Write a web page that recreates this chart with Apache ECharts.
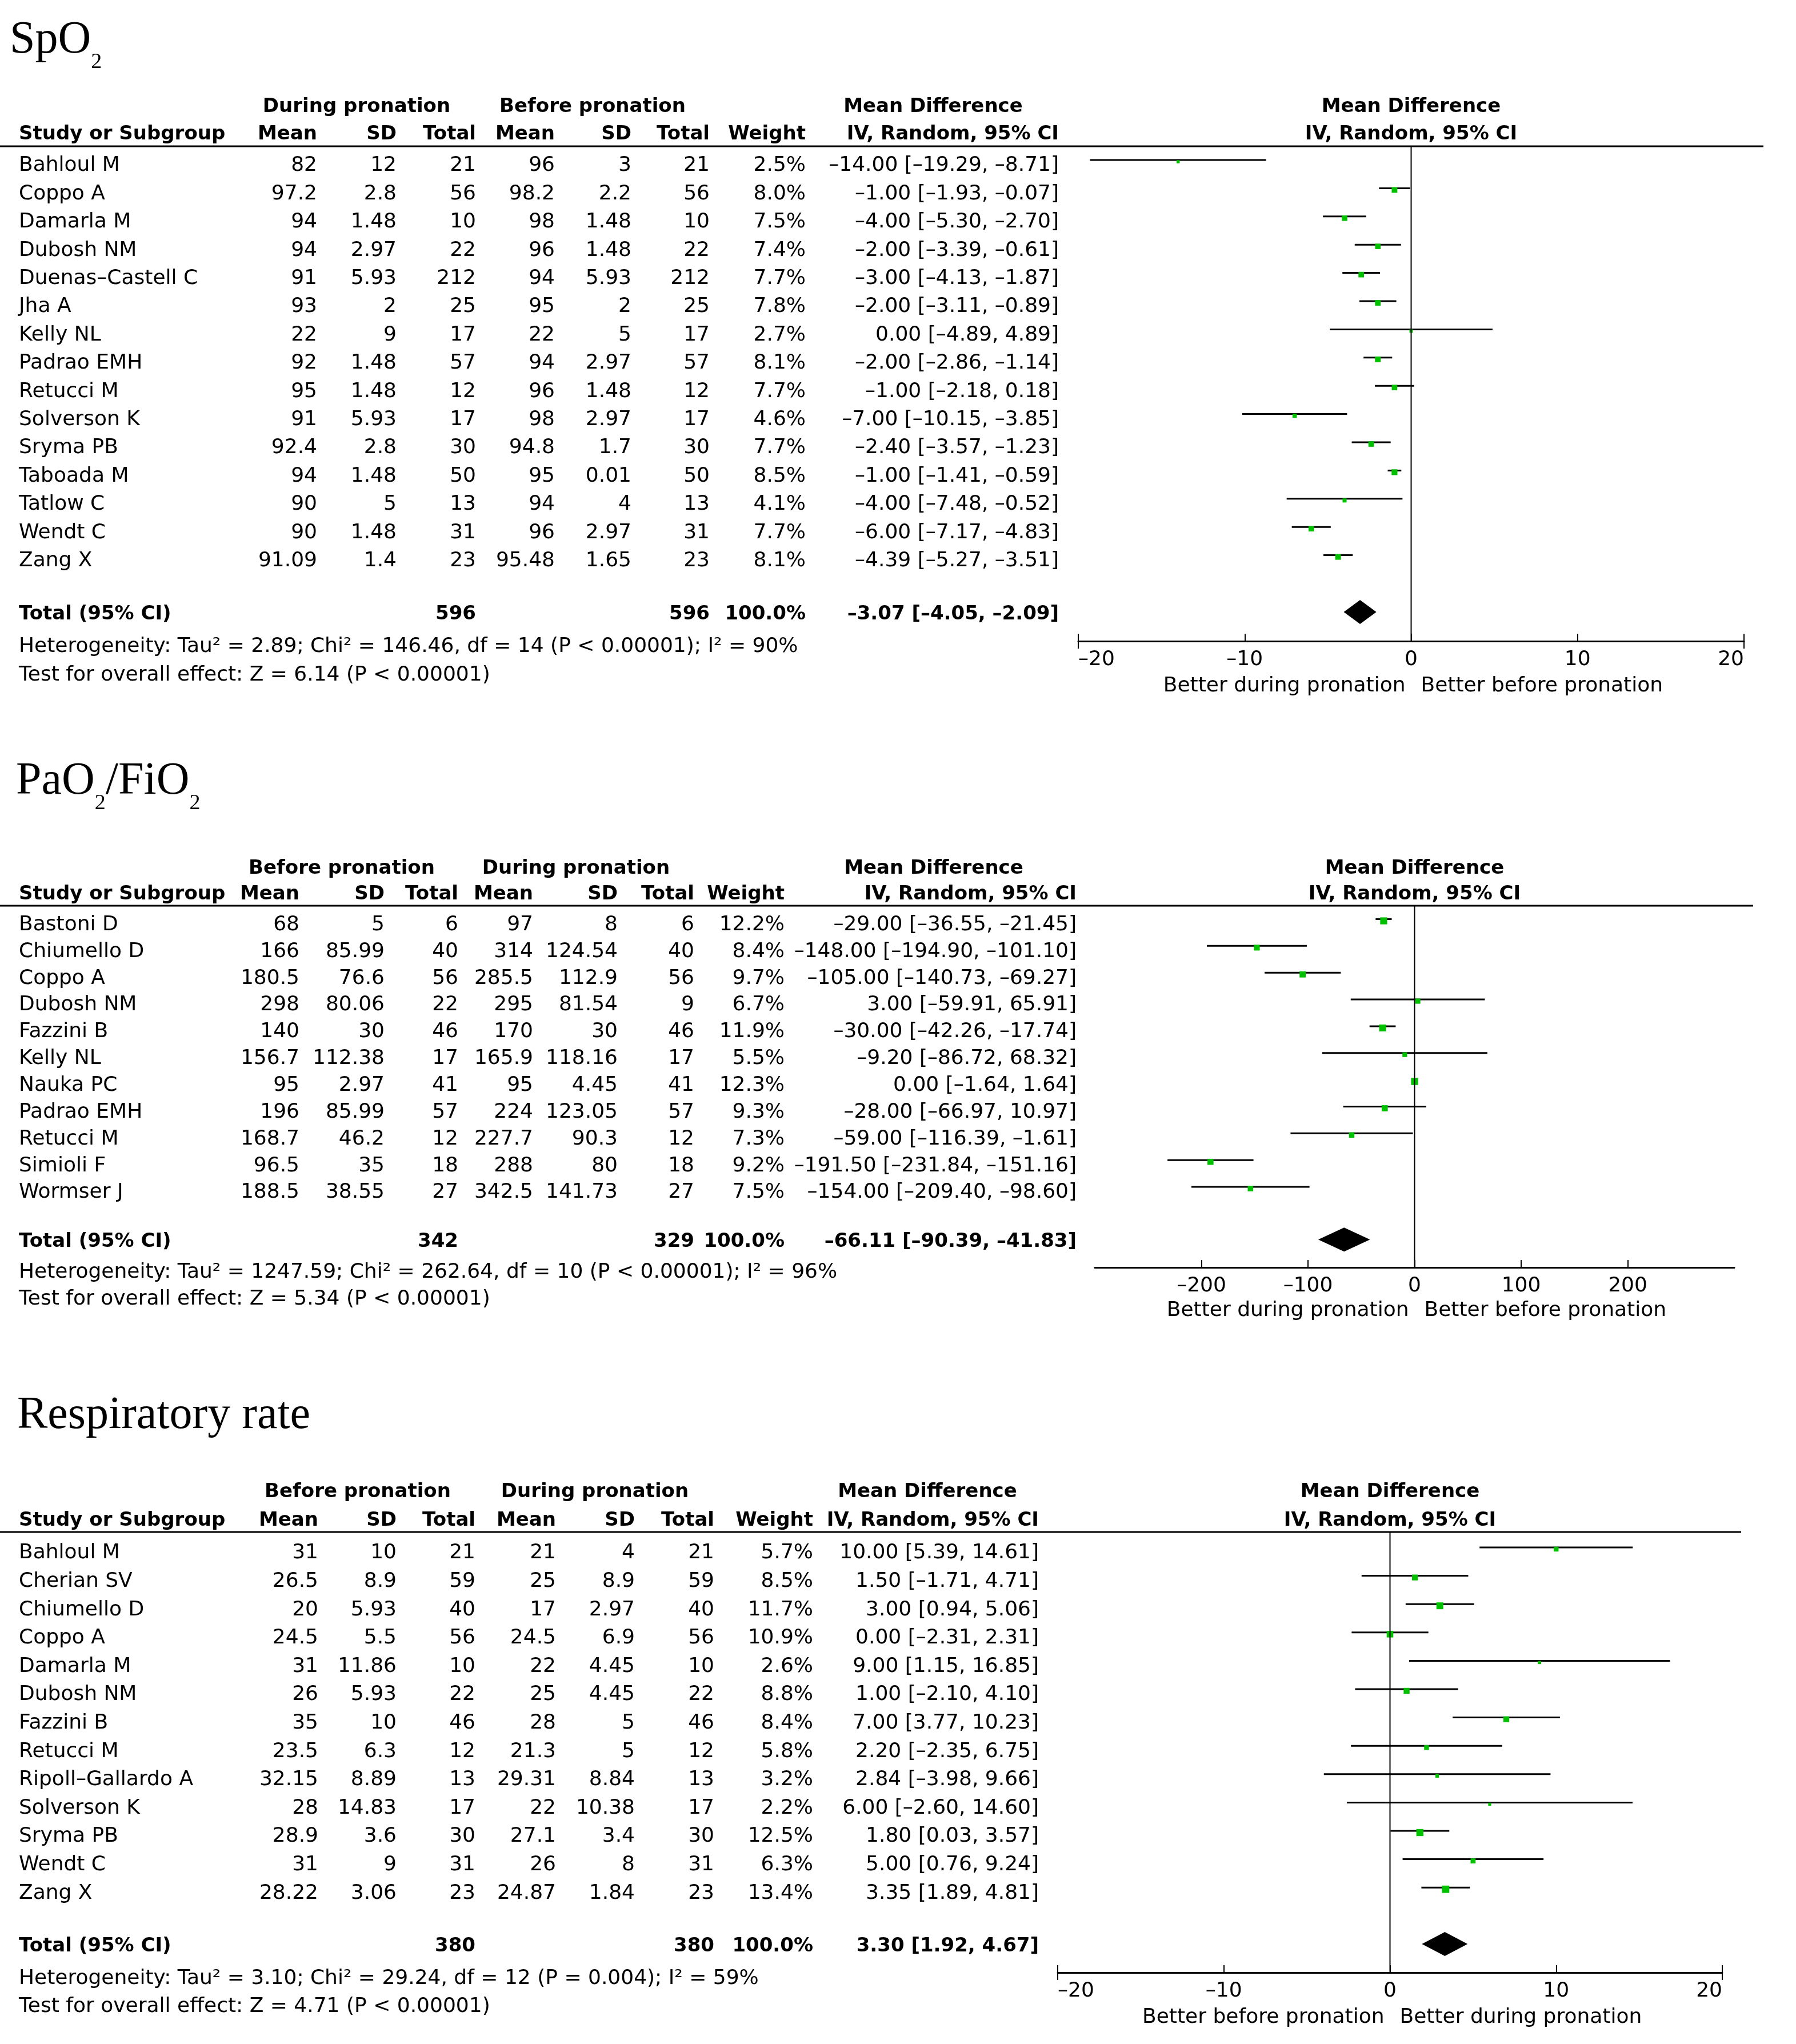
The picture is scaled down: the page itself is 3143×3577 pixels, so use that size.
<!DOCTYPE html>
<html>
<head>
<meta charset="utf-8">
<script src="https://cdn.jsdelivr.net/npm/echarts@6/dist/echarts.min.js"></script>
<style>
html, body { margin: 0; padding: 0; background: #fff; }
#main { width: 3143px; height: 3577px; }
</style>
</head>
<body>
<div id="main"></div>
<script>
// ---- SpO2 ----
const spo2Studies = ['Bahloul M', 'Coppo A', 'Damarla M', 'Dubosh NM', 'Duenas-Castell C', 'Jha A', 'Kelly NL', 'Padrao EMH', 'Retucci M', 'Solverson K', 'Sryma PB', 'Taboada M', 'Tatlow C', 'Wendt C', 'Zang X']
const spo2Groups = ['During pronation', 'Before pronation']
const spo2MeanA = [82, 97.2, 94, 94, 91, 93, 22, 92, 95, 91, 92.4, 94, 90, 90, 91.09]
const spo2SdA = [12, 2.8, 1.48, 2.97, 5.93, 2, 9, 1.48, 1.48, 5.93, 2.8, 1.48, 5, 1.48, 1.4]
const spo2NA = [21, 56, 10, 22, 212, 25, 17, 57, 12, 17, 30, 50, 13, 31, 23]
const spo2MeanB = [96, 98.2, 98, 96, 94, 95, 22, 94, 96, 98, 94.8, 95, 94, 96, 95.48]
const spo2SdB = [3, 2.2, 1.48, 1.48, 5.93, 2, 5, 2.97, 1.48, 2.97, 1.7, 0.01, 4, 2.97, 1.65]
const spo2NB = [21, 56, 10, 22, 212, 25, 17, 57, 12, 17, 30, 50, 13, 31, 23]
const spo2Weight = [2.5, 8.0, 7.5, 7.4, 7.7, 7.8, 2.7, 8.1, 7.7, 4.6, 7.7, 8.5, 4.1, 7.7, 8.1]
const spo2Md = [-14.00, -1.00, -4.00, -2.00, -3.00, -2.00, 0.00, -2.00, -1.00, -7.00, -2.40, -1.00, -4.00, -6.00, -4.39]
const spo2Lo = [-19.29, -1.93, -5.30, -3.39, -4.13, -3.11, -4.89, -2.86, -2.18, -10.15, -3.57, -1.41, -7.48, -7.17, -5.27]
const spo2Hi = [-8.71, -0.07, -2.70, -0.61, -1.87, -0.89, 4.89, -1.14, 0.18, -3.85, -1.23, -0.59, -0.52, -4.83, -3.51]
const spo2Total = [596, 596]
const spo2Pooled = [-3.07, -4.05, -2.09]
const spo2Het = 'Heterogeneity: Tau² = 2.89; Chi² = 146.46, df = 14 (P < 0.00001); I² = 90%'
const spo2Test = 'Test for overall effect: Z = 6.14 (P < 0.00001)'
const spo2Ticks = [-20, -10, 0, 10, 20]
const spo2Favours = ['Better during pronation', 'Better before pronation']

// ---- PaO2/FiO2 ----
const pfStudies = ['Bastoni D', 'Chiumello D', 'Coppo A', 'Dubosh NM', 'Fazzini B', 'Kelly NL', 'Nauka PC', 'Padrao EMH', 'Retucci M', 'Simioli F', 'Wormser J']
const pfGroups = ['Before pronation', 'During pronation']
const pfMeanA = [68, 166, 180.5, 298, 140, 156.7, 95, 196, 168.7, 96.5, 188.5]
const pfSdA = [5, 85.99, 76.6, 80.06, 30, 112.38, 2.97, 85.99, 46.2, 35, 38.55]
const pfNA = [6, 40, 56, 22, 46, 17, 41, 57, 12, 18, 27]
const pfMeanB = [97, 314, 285.5, 295, 170, 165.9, 95, 224, 227.7, 288, 342.5]
const pfSdB = [8, 124.54, 112.9, 81.54, 30, 118.16, 4.45, 123.05, 90.3, 80, 141.73]
const pfNB = [6, 40, 56, 9, 46, 17, 41, 57, 12, 18, 27]
const pfWeight = [12.2, 8.4, 9.7, 6.7, 11.9, 5.5, 12.3, 9.3, 7.3, 9.2, 7.5]
const pfMd = [-29.00, -148.00, -105.00, 3.00, -30.00, -9.20, 0.00, -28.00, -59.00, -191.50, -154.00]
const pfLo = [-36.55, -194.90, -140.73, -59.91, -42.26, -86.72, -1.64, -66.97, -116.39, -231.84, -209.40]
const pfHi = [-21.45, -101.10, -69.27, 65.91, -17.74, 68.32, 1.64, 10.97, -1.61, -151.16, -98.60]
const pfTotal = [342, 329]
const pfPooled = [-66.11, -90.39, -41.83]
const pfHet = 'Heterogeneity: Tau² = 1247.59; Chi² = 262.64, df = 10 (P < 0.00001); I² = 96%'
const pfTest = 'Test for overall effect: Z = 5.34 (P < 0.00001)'
const pfTicks = [-200, -100, 0, 100, 200]
const pfFavours = ['Better during pronation', 'Better before pronation']

// ---- Respiratory rate ----
const rrStudies = ['Bahloul M', 'Cherian SV', 'Chiumello D', 'Coppo A', 'Damarla M', 'Dubosh NM', 'Fazzini B', 'Retucci M', 'Ripoll-Gallardo A', 'Solverson K', 'Sryma PB', 'Wendt C', 'Zang X']
const rrGroups = ['Before pronation', 'During pronation']
const rrMeanA = [31, 26.5, 20, 24.5, 31, 26, 35, 23.5, 32.15, 28, 28.9, 31, 28.22]
const rrSdA = [10, 8.9, 5.93, 5.5, 11.86, 5.93, 10, 6.3, 8.89, 14.83, 3.6, 9, 3.06]
const rrNA = [21, 59, 40, 56, 10, 22, 46, 12, 13, 17, 30, 31, 23]
const rrMeanB = [21, 25, 17, 24.5, 22, 25, 28, 21.3, 29.31, 22, 27.1, 26, 24.87]
const rrSdB = [4, 8.9, 2.97, 6.9, 4.45, 4.45, 5, 5, 8.84, 10.38, 3.4, 8, 1.84]
const rrNB = [21, 59, 40, 56, 10, 22, 46, 12, 13, 17, 30, 31, 23]
const rrWeight = [5.7, 8.5, 11.7, 10.9, 2.6, 8.8, 8.4, 5.8, 3.2, 2.2, 12.5, 6.3, 13.4]
const rrMd = [10.00, 1.50, 3.00, 0.00, 9.00, 1.00, 7.00, 2.20, 2.84, 6.00, 1.80, 5.00, 3.35]
const rrLo = [5.39, -1.71, 0.94, -2.31, 1.15, -2.10, 3.77, -2.35, -3.98, -2.60, 0.03, 0.76, 1.89]
const rrHi = [14.61, 4.71, 5.06, 2.31, 16.85, 4.10, 10.23, 6.75, 9.66, 14.60, 3.57, 9.24, 4.81]
const rrTotal = [380, 380]
const rrPooled = [3.30, 1.92, 4.67]
const rrHet = 'Heterogeneity: Tau² = 3.10; Chi² = 29.24, df = 12 (P = 0.004); I² = 59%'
const rrTest = 'Test for overall effect: Z = 4.71 (P < 0.00001)'
const rrTicks = [-20, -10, 0, 10, 20]
const rrFavours = ['Better before pronation', 'Better during pronation']

const SANS = '"DejaVu Sans", Verdana, sans-serif'
const SERIF = '"Liberation Serif", "Times New Roman", serif'
const FS = 36      // regular text
const FSB = 34     // bold text
const TXT_DY = 4   // canvas "middle" sits a bit above the cap centre
const GREEN = '#00c000'

const dash = s => String(s).replace(/-/g, '–')
const f2 = v => dash(v.toFixed(2))
const ci = (m, l, h) => `${f2(m)} [${f2(l)}, ${f2(h)}]`

// panels: data + where things sit on the page
const panels = [
    {
        title: [['SpO', 0], ['2', 1]],
        studies: spo2Studies, groups: spo2Groups,
        cols: [spo2MeanA, spo2SdA, spo2NA, spo2MeanB, spo2SdB, spo2NB],
        weight: spo2Weight, md: spo2Md, lo: spo2Lo, hi: spo2Hi,
        total: spo2Total, pooled: spo2Pooled, het: spo2Het, test: spo2Test,
        ticks: spo2Ticks, favours: spo2Favours, xMin: -20, xMax: 20, step: 10, endTicks: true,
        lay: { titleLeft: 17, titleBase: 98, h1: 183, h2: 231, lineY: 256, lineRight: 3086,
            row0: 286, rowStep: 49.4, totalOff: 0.89, hetOff: 2.04, testOff: 3.04,
            axisLeft: 1887, axisRight: 3052, axisY: 1122,
            colX: [555, 694, 833, 971, 1105, 1242, 1410, 1853],
            groupX: [624, 1037], mdX: 1633, favY: 1197 }
    },
    {
        title: [['PaO', 0], ['2', 1], ['/FiO', 0], ['2', 1]],
        studies: pfStudies, groups: pfGroups,
        cols: [pfMeanA, pfSdA, pfNA, pfMeanB, pfSdB, pfNB],
        weight: pfWeight, md: pfMd, lo: pfLo, hi: pfHi,
        total: pfTotal, pooled: pfPooled, het: pfHet, test: pfTest,
        ticks: pfTicks, favours: pfFavours, xMin: -300, xMax: 300, step: 100, endTicks: false,
        lay: { titleLeft: 28, titleBase: 1395, h1: 1516, h2: 1561, lineY: 1585, lineRight: 3068,
            row0: 1614.5, rowStep: 46.85, totalOff: 0.84, hetOff: 1.97, testOff: 2.99,
            axisLeft: 1916, axisRight: 3035, axisY: 2218,
            colX: [524, 673, 802, 933, 1081, 1215, 1373, 1884],
            groupX: [598, 1008], mdX: 1634, favY: 2290 }
    },
    {
        title: [['Respiratory rate', 0]],
        studies: rrStudies, groups: rrGroups,
        cols: [rrMeanA, rrSdA, rrNA, rrMeanB, rrSdB, rrNB],
        weight: rrWeight, md: rrMd, lo: rrLo, hi: rrHi,
        total: rrTotal, pooled: rrPooled, het: rrHet, test: rrTest,
        ticks: rrTicks, favours: rrFavours, xMin: -20, xMax: 20, step: 10, endTicks: true,
        lay: { titleLeft: 30, titleBase: 2505, h1: 2607, h2: 2657, lineY: 2681, lineRight: 3047,
            row0: 2714, rowStep: 49.6, totalOff: 0.87, hetOff: 2.02, testOff: 3.0,
            axisLeft: 1851, axisRight: 3014, axisY: 3452,
            colX: [557, 694, 832, 973, 1111, 1250, 1423, 1818],
            groupX: [626, 1041], mdX: 1623, favY: 3527 }
    }
]

const ctx = document.createElement('canvas').getContext('2d')
const measure = (str, size, family) => {
    ctx.font = `${size}px ${family}`
    return ctx.measureText(str).width
}

const txt = (text, x, y, align, bold, size) => ({
    type: 'text', x: x, y: y + TXT_DY, silent: true,
    style: {
        text: text, fill: '#000',
        fontSize: size || (bold ? FSB : FS), fontFamily: SANS, fontWeight: bold ? 'bold' : 'normal',
        align: align, textAlign: align, verticalAlign: 'middle', textVerticalAlign: 'middle'
    }
})

const option = { animation: false, backgroundColor: '#fff', grid: [], xAxis: [], yAxis: [], series: [], graphic: [] }

panels.forEach((p, k) => {
    const L = p.lay
    const n = p.studies.length
    const yMin = (L.lineY - L.row0) / L.rowStep
    const yMax = (L.axisY - L.row0) / L.rowStep

    option.grid.push({ left: L.axisLeft, top: L.lineY, width: L.axisRight - L.axisLeft, height: L.axisY - L.lineY })
    const xi = option.xAxis.length
    option.xAxis.push({
        gridIndex: k, type: 'value', position: 'bottom', min: p.xMin, max: p.xMax, interval: p.step,
        axisLine: { onZero: false, lineStyle: { color: '#000', width: 3 } },
        axisTick: { inside: true, length: 13, lineStyle: { color: '#000', width: 2 }, customValues: p.ticks },
        axisLabel: {
            customValues: p.ticks, margin: 15, color: '#000', fontSize: FS, fontFamily: SANS,
            alignMinLabel: p.endTicks ? 'left' : 'center', alignMaxLabel: p.endTicks ? 'right' : 'center',
            formatter: v => dash(v)
        },
        splitLine: { show: false }
    })
    if (p.endTicks) {
        option.xAxis.push({
            gridIndex: k, type: 'value', position: 'bottom', min: p.xMin, max: p.xMax, interval: p.step,
            axisLine: { show: false, onZero: false },
            axisTick: { inside: false, length: 13, lineStyle: { color: '#000', width: 2 }, customValues: [p.xMin, p.xMax] },
            axisLabel: { show: false }, splitLine: { show: false }
        })
    }
    option.yAxis.push({ gridIndex: k, type: 'value', inverse: true, min: yMin, max: yMax, show: false })

    // zero line
    option.series.push({
        type: 'line', xAxisIndex: xi, yAxisIndex: k, silent: true, symbol: 'none',
        data: [[0, yMin], [0, yMax]], lineStyle: { color: '#000', width: 2 }
    })

    // study CIs and weight squares
    option.series.push({
        type: 'custom', xAxisIndex: xi, yAxisIndex: k, silent: true, clip: false,
        data: p.studies.map((s, i) => [p.lo[i], p.hi[i], p.md[i], i, p.weight[i]]),
        renderItem: (params, api) => {
            const y = api.coord([0, api.value(3)])[1] - 6
            const x1 = api.coord([api.value(0), 0])[0]
            const x2 = api.coord([api.value(1), 0])[0]
            const xm = api.coord([api.value(2), 0])[0]
            const s = 3.5 * Math.sqrt(api.value(4))
            return {
                type: 'group', children: [
                    { type: 'line', shape: { x1: x1, y1: y, x2: x2, y2: y }, style: { stroke: '#000', lineWidth: 3 } },
                    { type: 'rect', shape: { x: xm - s / 2, y: y + 3 - s / 2, width: s, height: s }, style: { fill: GREEN } }
                ]
            }
        }
    })

    // pooled diamond
    option.series.push({
        type: 'custom', xAxisIndex: xi, yAxisIndex: k, silent: true, clip: false,
        data: [[p.pooled[1], p.pooled[2], p.pooled[0], n + L.totalOff]],
        renderItem: (params, api) => {
            const row = api.value(3)
            const l = api.coord([api.value(0), row])
            const r = api.coord([api.value(1), row])
            const c = api.coord([api.value(2), row])
            return {
                type: 'polygon',
                shape: { points: [[l[0], c[1]], [c[0], c[1] - 21], [r[0], c[1]], [c[0], c[1] + 21]] },
                style: { fill: '#000' }
            }
        }
    })

    // table text, rows placed by the same y axis
    const rows = p.studies.map((s, i) => [0, i])
    rows.push([0, n + L.totalOff], [0, n + L.hetOff], [0, n + L.testOff])
    option.series.push({
        type: 'custom', xAxisIndex: xi, yAxisIndex: k, silent: true, clip: false,
        data: rows,
        renderItem: (params, api) => {
            const i = params.dataIndex
            const y = api.coord([0, api.value(1)])[1]
            const C = L.colX
            let kids = []
            if (i < n) {
                kids.push(txt(dash(p.studies[i]), 33, y, 'left'))
                p.cols.forEach((col, j) => kids.push(txt(dash(col[i]), C[j], y, 'right')))
                kids.push(txt(p.weight[i].toFixed(1) + '%', C[6], y, 'right'))
                kids.push(txt(ci(p.md[i], p.lo[i], p.hi[i]), C[7], y, 'right'))
            } else if (i === n) {
                kids.push(txt('Total (95% CI)', 33, y, 'left', true))
                kids.push(txt(String(p.total[0]), C[2], y, 'right', true))
                kids.push(txt(String(p.total[1]), C[5], y, 'right', true))
                kids.push(txt('100.0%', C[6], y, 'right', true))
                kids.push(txt(ci(p.pooled[0], p.pooled[1], p.pooled[2]), C[7], y, 'right', true))
            } else if (i === n + 1) {
                kids.push(txt(p.het, 33, y, 'left'))
            } else {
                kids.push(txt(p.test, 33, y, 'left'))
            }
            return { type: 'group', children: kids }
        }
    })

    // headers, rules, title
    const C = L.colX
    const zeroX = L.axisLeft + (0 - p.xMin) / (p.xMax - p.xMin) * (L.axisRight - L.axisLeft)
    const g = option.graphic
    g.push(txt(p.groups[0], L.groupX[0], L.h1, 'center', true))
    g.push(txt(p.groups[1], L.groupX[1], L.h1, 'center', true))
    g.push(txt('Mean Difference', L.mdX, L.h1, 'center', true))
    g.push(txt('Mean Difference', zeroX, L.h1, 'center', true))
    g.push(txt('Study or Subgroup', 33, L.h2, 'left', true))
    const heads = ['Mean', 'SD', 'Total', 'Mean', 'SD', 'Total', 'Weight', 'IV, Random, 95% CI']
    heads.forEach((h, j) => g.push(txt(h, C[j], L.h2, 'right', true)))
    g.push(txt('IV, Random, 95% CI', zeroX, L.h2, 'center', true))
    g.push({ type: 'rect', silent: true, shape: { x: 0, y: L.lineY - 1.5, width: L.lineRight, height: 3 }, style: { fill: '#000' } })
    g.push(txt(p.favours[0], zeroX - 10, L.favY, 'right'))
    g.push(txt(p.favours[1], zeroX + 17, L.favY, 'left'))

    let tx = L.titleLeft
    p.title.forEach(([s, sub]) => {
        const size = sub ? 38 : 80
        const y = sub ? L.titleBase + 11.5 : L.titleBase - 27
        g.push({
            type: 'text', x: tx, y: y, silent: true,
            style: { text: s, fill: '#000', fontSize: size, fontFamily: SERIF,
                align: 'left', textAlign: 'left', verticalAlign: 'middle', textVerticalAlign: 'middle' }
        })
        tx += measure(s, size, SERIF)
    })
})

const chart = echarts.init(document.getElementById('main'), null, { renderer: 'canvas' })
chart.setOption(option)
</script>
</body>
</html>
